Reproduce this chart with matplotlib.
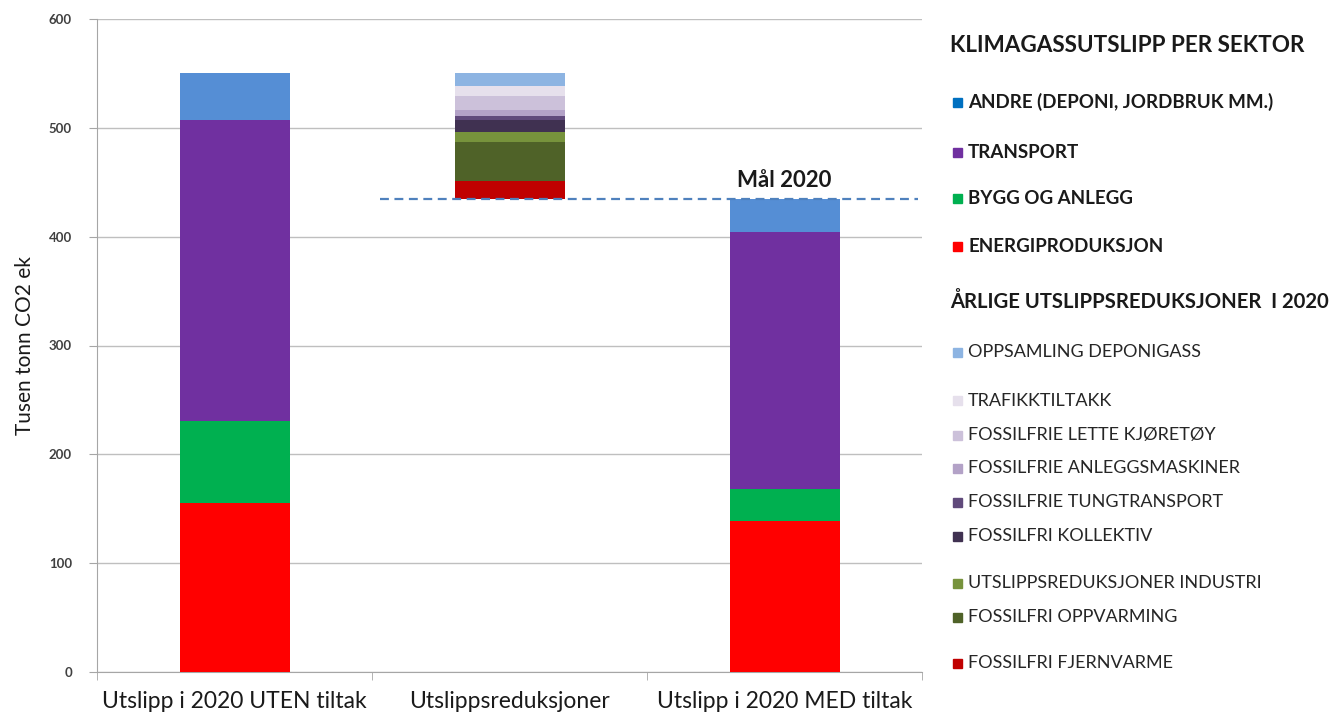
import matplotlib
matplotlib.use("Agg")
import matplotlib.pyplot as plt
import numpy as np

plt.rcParams['font.family'] = ['Lato', 'DejaVu Sans']

categories = ["Utslipp i 2020 UTEN tiltak", "Utslippsreduksjoner", "Utslipp i 2020 MED tiltak"]

sector_names = ["ENERGIPRODUKSJON", "BYGG OG ANLEGG", "TRANSPORT", "ANDRE (DEPONI, JORDBRUK MM.)"]
sector_colors = ["#FF0000", "#00B050", "#7030A0", "#558ED5"]
legend_sector_colors = ["#FF0000", "#00B050", "#7030A0", "#0070C0"]
uten_tiltak = [155, 76, 276, 43]
med_tiltak = [139, 29, 236, 31]

reduction_names = ["FOSSILFRI FJERNVARME", "FOSSILFRI OPPVARMING", "UTSLIPPSREDUKSJONER INDUSTRI",
                   "FOSSILFRI KOLLEKTIV", "FOSSILFRIE TUNGTRANSPORT", "FOSSILFRIE ANLEGGSMASKINER",
                   "FOSSILFRIE LETTE KJØRETØY", "TRAFIKKTILTAKK", "OPPSAMLING DEPONIGASS"]
reduction_colors = ["#C00000", "#4F6228", "#77933C", "#403151", "#604A7B", "#B3A2C7",
                    "#CCC1DA", "#E6E0EC", "#8DB4E2"]
reductions = [16, 36, 9, 11, 4, 5, 13, 9, 12]

mal_2020 = 435
yticks = [0, 100, 200, 300, 400, 500, 600]

fig = plt.figure(figsize=(13.32, 7.17), dpi=100)
ax = fig.add_axes([97/1332, 1-672/717, (922-97)/1332, (672-19)/717])

w = 0.4
bottom = 0
for v, c in zip(uten_tiltak, sector_colors):
    ax.bar(0, v, w, bottom=bottom, color=c, zorder=3)
    bottom += v
bottom = 0
for v, c in zip(med_tiltak, sector_colors):
    ax.bar(2, v, w, bottom=bottom, color=c, zorder=3)
    bottom += v
bottom = sum(uten_tiltak) - sum(reductions)
for v, c in zip(reductions, reduction_colors):
    ax.bar(1, v, w, bottom=bottom, color=c, zorder=3)
    bottom += v

ax.plot([0.53, 2.485], [mal_2020, mal_2020], ls=(0, (4, 2.5)), color="#4F81BD", lw=1.6, zorder=4)
ax.text(2, mal_2020 + 7, "Mål 2020", ha="center", va="bottom", fontsize=16, fontweight="bold",
        color="#1a1a1a")

ax.set_xlim(-0.5, 2.5)
ax.set_ylim(0, 600)
ax.set_yticks(yticks)
ax.set_yticklabels([str(t) for t in yticks], fontsize=9.5, fontweight="bold", color="#404040")
ax.yaxis.grid(True, color="#BFBFBF", lw=1, zorder=0)
ax.set_xticks([0, 1, 2])
ax.set_xticklabels(categories, fontsize=16.5, color="#1a1a1a")
ax.set_xticks([-0.5, 0.5, 1.5, 2.5], minor=True)
ax.tick_params(axis="x", which="major", length=0, pad=14)
ax.tick_params(axis="x", which="minor", length=6, color="#A6A6A6")
ax.tick_params(axis="y", length=6, color="#A6A6A6", pad=12)
for s in ["top", "right"]:
    ax.spines[s].set_visible(False)
ax.spines["left"].set_color("#A6A6A6")
ax.spines["bottom"].set_color("#A6A6A6")
ax.set_ylabel("Tusen tonn CO2 ek", fontsize=15, color="#1a1a1a", labelpad=10)

# Legend (drawn as text in figure pixels)
def fy(py):
    return 1 - py / 717

def fx(px):
    return px / 1332

fig.text(fx(950), fy(46), "KLIMAGASSUTSLIPP PER SEKTOR", fontsize=16.2, fontweight="bold",
         va="center", color="#1a1a1a")
sec_y = [246, 198, 152, 102]
for name, c, py in zip(sector_names, legend_sector_colors, sec_y):
    fig.patches.append(plt.Rectangle((fx(953), fy(py) - 4.5/717), 9/1332, 9/717,
                                     transform=fig.transFigure, color=c, figure=fig))
    fig.text(fx(968), fy(py), name, fontsize=13.5, fontweight="bold", va="center", color="#1a1a1a")

fig.text(fx(950), fy(302), "ÅRLIGE UTSLIPPSREDUKSJONER  I 2020", fontsize=14.6, fontweight="bold",
         va="center", color="#1a1a1a")
red_y = [663, 617, 583, 536, 502, 468, 435, 401, 352]
for name, c, py in zip(reduction_names, reduction_colors, red_y):
    fig.patches.append(plt.Rectangle((fx(953), fy(py) - 4.5/717), 9/1332, 9/717,
                                     transform=fig.transFigure, color=c, figure=fig))
    fig.text(fx(968), fy(py), name, fontsize=13, va="center", color="#262626")

fig.savefig("out.png", dpi=100)
